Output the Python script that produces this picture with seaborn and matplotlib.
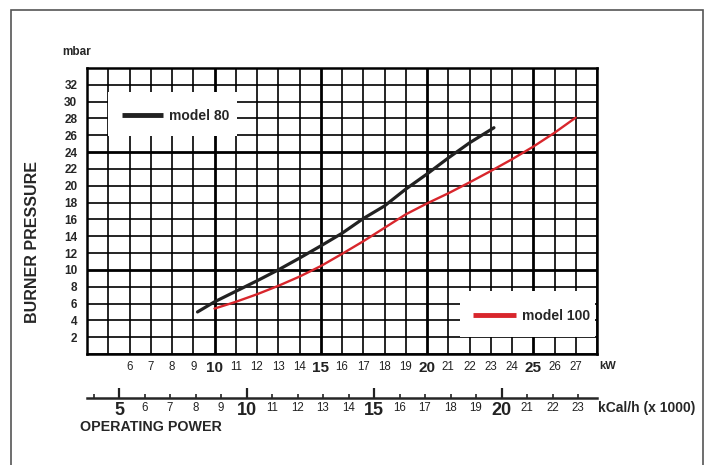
import numpy as np
import pandas as pd
import matplotlib
matplotlib.use("Agg")
import matplotlib.pyplot as plt
import seaborn as sns
from matplotlib.lines import Line2D
from matplotlib.patches import Rectangle

# --- Data ---
model80_kw = [9.2, 10, 11, 12, 13, 14, 15, 16, 17, 18, 19, 20, 21, 22, 23.15]
model80_mbar = [5.0, 6.2, 7.45, 8.7, 10.0, 11.4, 12.85, 14.35, 16.1, 17.6, 19.6, 21.4, 23.3, 25.1, 26.9]

model100_kw = [10, 11, 12, 13, 14, 15, 16, 17, 18, 19, 20, 21, 22, 23, 24, 25, 26, 27]
model100_mbar = [5.4, 6.2, 7.1, 8.1, 9.2, 10.45, 11.9, 13.4, 15.0, 16.6, 17.9, 19.1, 20.4, 21.75,
                 23.15, 24.65, 26.3, 28.1]

kw_ticks = list(range(4, 29))
kw_labels = [str(v) if 6 <= v <= 27 else "" for v in kw_ticks]
kw_big = [10, 15, 20, 25]

mbar_ticks = list(range(0, 35, 2))
mbar_labels = [str(v) if 2 <= v <= 32 else "" for v in mbar_ticks]

kcal_ticks = list(range(4, 24))
kcal_labels = [str(v) if v >= 5 else "" for v in kcal_ticks]
kcal_big = [5, 10, 15, 20]

# printed kcal scale: kW = 5.506 + (kcal - 5) * 1.2
def kcal_to_kw(k):
    return 5.506 + (np.asarray(k) - 5) * 1.2

def kw_to_kcal(w):
    return (np.asarray(w) - 5.506) / 1.2 + 5

df = pd.concat([
    pd.DataFrame({"kW": model80_kw, "mbar": model80_mbar, "model": "model 80"}),
    pd.DataFrame({"kW": model100_kw, "mbar": model100_mbar, "model": "model 100"}),
])

sns.set_style("white")
plt.rcParams["font.family"] = ["Liberation Sans", "DejaVu Sans"]

colors = {"model 80": "#222222", "model 100": "#d8262c"}

fig = plt.figure(figsize=(7.09, 4.65), dpi=100)
ax = fig.add_axes([87 / 709, 111 / 465, 510 / 709, 286 / 465])

sns.lineplot(data=df[df.model == "model 80"], x="kW", y="mbar", color=colors["model 80"],
             lw=2.3, sort=False, estimator=None, ax=ax, zorder=5)
sns.lineplot(data=df[df.model == "model 100"], x="kW", y="mbar", color=colors["model 100"],
             lw=1.7, sort=False, estimator=None, ax=ax, zorder=5)

ax.set_xlim(4, 28)
ax.set_ylim(0, 34)
ax.set_xticks(kw_ticks, kw_labels)
ax.set_yticks(mbar_ticks, mbar_labels)
ax.grid(True, color="black", lw=1.2)
for v, gl in zip(kw_ticks, ax.xaxis.get_gridlines()):
    if v in kw_big:
        gl.set_linewidth(2.0)
for v, gl in zip(mbar_ticks, ax.yaxis.get_gridlines()):
    if v in (10, 24):
        gl.set_linewidth(2.0)
for s in ax.spines.values():
    s.set_color("black")
    s.set_linewidth(1.8)

ax.tick_params(axis="x", length=0, pad=5, labelsize=8.3, colors="#222222")
ax.tick_params(axis="y", length=0, pad=7, labelsize=8.5)
for v, lab in zip(kw_ticks, ax.get_xticklabels()):
    if v in kw_big:
        lab.set_fontsize(11)
        lab.set_fontweight("bold")
for lab in ax.get_yticklabels():
    lab.set_fontweight("bold")

ax.set_xlabel("")
ax.set_ylabel("BURNER PRESSURE", fontsize=11.5, fontweight="bold")
ax.yaxis.set_label_coords(-47 / 510, 0.39)

# --- kcal/h secondary scale ---
sec = ax.secondary_xaxis(-44 / 286, functions=(kw_to_kcal, kcal_to_kw))
sec.set_xticks(kcal_ticks, kcal_labels)
sec.spines["bottom"].set_linewidth(1.8)
sec.tick_params(direction="in", length=3, width=1.2, pad=3, labelsize=8.3, colors="#222222")
for v, lab in zip(kcal_ticks, sec.get_xticklabels()):
    if v in kcal_big:
        lab.set_fontsize(13)
        lab.set_fontweight("bold")
for v, t in zip(kcal_ticks, sec.xaxis.get_major_ticks()):
    if v in kcal_big:
        t.tick1line.set_markersize(7)
        t.tick1line.set_markeredgewidth(1.6)

# --- legends: white boxes knocked out of the grid ---
ax.add_patch(Rectangle((21 / 510, 218 / 286), 129 / 510, 44 / 286, transform=ax.transAxes,
                       facecolor="white", edgecolor="none", zorder=4))
ax.add_patch(Rectangle((373 / 510, 17 / 286), 135 / 510, 46 / 286, transform=ax.transAxes,
                       facecolor="white", edgecolor="none", zorder=4))

leg_kw = dict(frameon=False, borderpad=0, borderaxespad=0, handletextpad=0.43,
              prop={"weight": "bold", "size": 10})
h80 = [Line2D([], [], color=colors["model 80"], lw=3.5, solid_capstyle="butt")]
leg1 = ax.legend(h80, ["model 80"], loc="center left", bbox_to_anchor=(35 / 510, 238 / 286),
                 handlelength=2.95, **leg_kw)
leg1.set_zorder(6)
ax.add_artist(leg1)
h100 = [Line2D([], [], color=colors["model 100"], lw=3.5, solid_capstyle="butt")]
leg2 = ax.legend(h100, ["model 100"], loc="center left", bbox_to_anchor=(386 / 510, 38 / 286),
                 handlelength=3.1, **leg_kw)
leg2.set_zorder(6)

# --- figure texts ---
fig.text(62 / 709, 1 - 52 / 465, "mbar", fontsize=8.5, fontweight="bold", va="center")
fig.text(599 / 709, 1 - 366 / 465, "kW", fontsize=8, fontweight="bold", va="center")
fig.text(598 / 709, 1 - 408 / 465, "kCal/h (x 1000)", fontsize=10, fontweight="bold", va="center")
fig.text(80 / 709, 1 - 427 / 465, "OPERATING POWER", fontsize=10.3, fontweight="bold", va="center")

fig.patches.append(Rectangle((11 / 709, -0.1), 692 / 709, 1.1 - 10 / 465, transform=fig.transFigure,
                             fill=False, edgecolor="#555555", lw=1.2))

fig.savefig("out.png", dpi=100)
